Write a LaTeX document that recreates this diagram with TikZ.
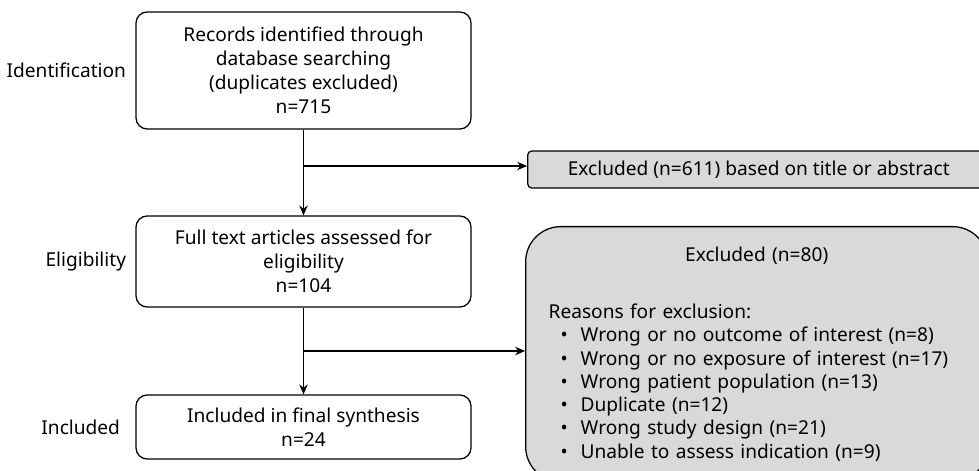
\documentclass[tikz,border=0pt]{standalone}
\usepackage{fontspec}
\setmainfont{Noto Sans}
\usetikzlibrary{
  arrows.meta,
  positioning
}
\tikzset{
  >={Stealth[length=7pt,width=6pt]},
  line cap=round,
  line join=round,
  every picture/.style={line width=0.9pt},
  box/.style={draw, rounded corners=8pt, minimum width=8.375cm, align=center,
    font=\fontsize{13.6}{17.2}\selectfont},
  exclbox/.style={draw, fill=excl, rounded corners=3pt, minimum width=11.55cm,
    minimum height=0.925cm, font=\fontsize{13.6}{17}\selectfont},
  exclbig/.style={draw, fill=excl, rounded corners=25pt, minimum width=11.55cm,
    minimum height=6.375cm, text width=10.4cm, inner xsep=0.575cm, align=left,
    font=\fontsize{13.6}{16.5}\selectfont},
  stage/.style={font=\fontsize{13.6}{17}\selectfont},
  arrow/.style={->}
}
\definecolor{excl}{RGB}{217,217,217}
\newcommand{\reason}[1]{\makebox[0.8cm][l]{\hspace{0.3cm}\textbullet}#1}

\begin{document}
\begin{tikzpicture}[x=0.025cm, y=-0.025cm]
  \useasboundingbox (0,0) rectangle (979,471);

  % main column
  \node[box, minimum height=2.925cm] (records) at (303.5,70.5)
    {Records identified through\\database searching\\(duplicates excluded)\\n=715};
  \node[box, minimum height=2.275cm] (fulltext) at (303.5,261.5)
    {Full text articles assessed for\\eligibility\\n=104};
  \node[box, minimum height=1.6cm] (included) at (303.5,427)
    {Included in final synthesis\\n=24};

  % stages
  \node[stage, left=0.1cm of records] (ident) {Identification};
  \node[stage, left=0.1cm of fulltext] (elig) {Eligibility};
  \node[stage, left=0.25cm of included] (incl) {Included};

  % exclusions
  \node[exclbox, anchor=west] (excl1) at (527,169.5)
    {Excluded (n=611) based on title or abstract};
  \node[exclbig, anchor=north west] (excl2) at (525,226) {%
    \makebox[\linewidth]{Excluded (n=80)}\\[24pt]
    Reasons for exclusion:\\
    \reason{Wrong or no outcome of interest (n=8)}\\
    \reason{Wrong or no exposure of interest (n=17)}\\
    \reason{Wrong patient population (n=13)}\\
    \reason{Duplicate (n=12)}\\
    \reason{Wrong study design (n=21)}\\
    \reason{Unable to assess indication (n=9)}};

  \coordinate (split1) at (303.5,166);
  \coordinate (split2) at (303.5,351);

  \draw[arrow] (records) -- (fulltext);
  \draw[arrow] (fulltext) -- (included);
  \draw[arrow] (split1) -- (split1 -| excl1.west);
  \draw[arrow] (split2) -- (split2 -| excl2.west);
\end{tikzpicture}
\end{document}
